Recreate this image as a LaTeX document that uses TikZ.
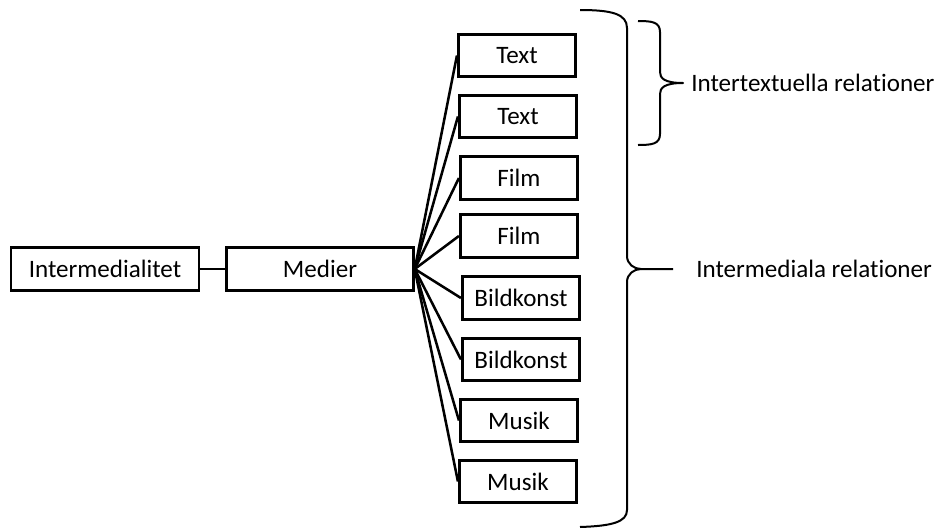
\documentclass[tikz,border=0pt]{standalone}
\usepackage{fontspec}
\setmainfont{Carlito}[Ligatures=NoCommon]
\tikzset{every path/.style={black, line width=1.9pt},
  box/.style={draw, line width=2.1pt, minimum height=32pt, inner sep=0pt, font=\fontsize{18.8}{22}\selectfont},
  label/.style={anchor=west, inner sep=0pt, font=\fontsize{18.8}{22}\selectfont},
  brace/.style={line width=1.5pt, line join=round}}

\begin{document}
\begin{tikzpicture}[x=0.75pt, y=-0.75pt]
  \useasboundingbox (0,0) rectangle (940,529);
  \node[box, minimum width=141pt] (inter) at (105,269) {Intermedialitet};
  \node[box, minimum width=140pt] (medier) at (320,269) {Medier};
  \node[box, minimum width=88pt] (text1) at (517,55.5) {Text};
  \node[box, minimum width=88pt] (text2) at (518,116.5) {Text};
  \node[box, minimum width=88pt] (film1) at (519,178) {Film};
  \node[box, minimum width=88pt] (film2) at (519,236) {Film};
  \node[box, minimum width=88pt] (bild1) at (521,298) {Bildkonst};
  \node[box, minimum width=88pt] (bild2) at (521,359.5) {Bildkonst};
  \node[box, minimum width=88pt] (musik1) at (519,420.5) {Musik};
  \node[box, minimum width=88pt] (musik2) at (518,481.5) {Musik};
  \draw[line width=2.2pt] (inter) -- (medier);
  \draw (medier.east) -- (text1.west);
  \draw (medier.east) -- (text2.west);
  \draw (medier.east) -- (film1.west);
  \draw (medier.east) -- (film2.west);
  \draw (medier.east) -- (bild1.west);
  \draw (medier.east) -- (bild2.west);
  \draw (medier.east) -- (musik1.west);
  \draw (medier.east) -- (musik2.west);
  % small brace
  \coordinate (tipa) at (683,83);
  \draw[brace] (638,21) .. controls (652,21) and (660,22) .. (660,32) -- (660,72)
    .. controls (660,78) and (664,83) .. (tipa)
    .. controls (664,83) and (660,88) .. (660,94) -- (660,134)
    .. controls (660,144) and (652,145) .. (638,145);
  % big brace
  \coordinate (tipb) at (673,269);
  \draw[brace] (580,10) .. controls (612,10) and (627,14) .. (627,28) -- (627,256)
    .. controls (627,264) and (634,269) .. (641,269) -- (tipb);
  \draw[brace] (641,269) .. controls (634,269) and (627,274) .. (627,282) -- (627,510)
    .. controls (627,522) and (612,526) .. (580,527);
  \node[label] (intertext) at (690,83) {Intertextuella relationer};
  \node[label] (intermed) at (695,269) {Intermediala relationer};
\end{tikzpicture}
\end{document}
